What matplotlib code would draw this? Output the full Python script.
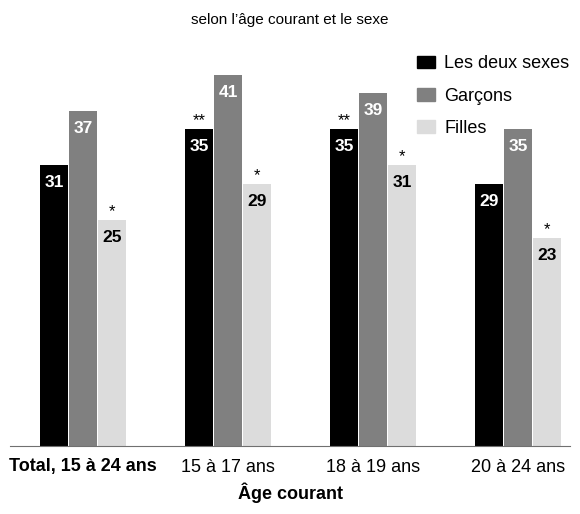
import matplotlib
matplotlib.use("Agg")
import matplotlib.pyplot as plt
from matplotlib.patches import Patch
import numpy as np

categories = ["Total, 15 à 24 ans", "15 à 17 ans", "18 à 19 ans", "20 à 24 ans"]
series_names = ["Les deux sexes", "Garçons", "Filles"]
deux = [31, 35, 35, 29]
garcons = [37, 41, 39, 35]
filles = [25, 29, 31, 23]
deux_marks = ["", "**", "**", ""]
garcons_marks = ["", "", "", ""]
filles_marks = ["*", "*", "*", "*"]
colors = ["#000000", "#808080", "#dcdcdc"]
text_colors = ["white", "white", "black"]

plt.rcParams['font.family'] = ['Liberation Sans Narrow', 'Liberation Sans', 'DejaVu Sans']

fig = plt.figure(figsize=(5.8, 5.14), dpi=100)
ax = fig.add_axes([10/580, (514-446)/514, 560/580, (446-40)/514])

x = np.arange(len(categories))
w = 0.2
for i, (vals, marks) in enumerate(zip([deux, garcons, filles], [deux_marks, garcons_marks, filles_marks])):
    xs = x + (i - 1) * w
    ax.bar(xs, vals, width=w - 0.005, color=colors[i], label=series_names[i])
    for xi, v, m in zip(xs, vals, marks):
        ax.text(xi, v - 1.1, f"{v}", ha="center", va="top", color=text_colors[i],
                fontsize=12.5, fontweight="semibold")
        if m:
            ax.text(xi, v + 0.1, m, ha="center", va="bottom", color="black", fontsize=12)

ax.set_xlim(-0.503, 3.359)
ax.set_ylim(0, (446 - 40) / 9.05)
for s in ["top", "right", "left"]:
    ax.spines[s].set_visible(False)
ax.spines["bottom"].set_color("#707070")
ax.set_yticks([])
ax.set_xticks(x)
ax.set_xticklabels(categories, fontsize=13)
ax.get_xticklabels()[0].set_fontweight("bold")
ax.tick_params(axis="x", length=0, pad=9)
ax.set_xlabel("Âge courant", fontsize=13, fontweight="bold", labelpad=5)

fig.text(0.5, 1 - 20/514, "selon l’âge courant et le sexe", ha="center", va="center", fontsize=11)

handles = [Patch(color=c) for c in colors]
leg = fig.legend(handles, series_names, loc="upper left", bbox_to_anchor=(410/580, 1 - 48/514),
                 frameon=False, fontsize=13, handlelength=1.0, handleheight=0.7,
                 labelspacing=0.85, handletextpad=0.5, borderaxespad=0)

fig.savefig("out.png", dpi=100)
